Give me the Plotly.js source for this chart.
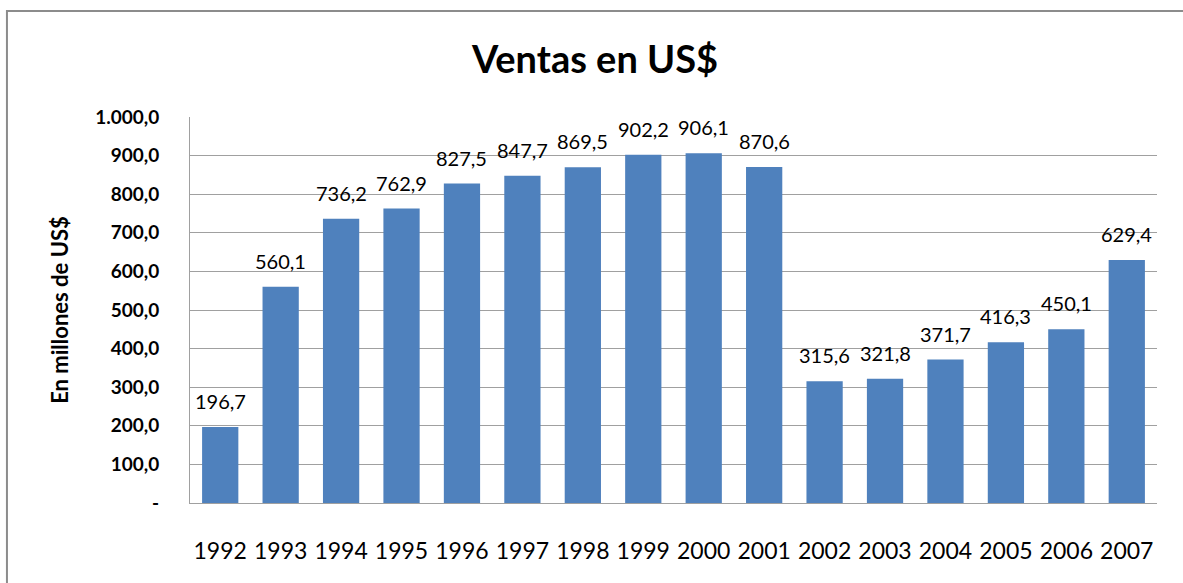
<!DOCTYPE html>
<html>
<head>
<meta charset="utf-8">
<script src="https://cdn.plot.ly/plotly-3.0.1.min.js"></script>
<style>html,body{margin:0;padding:0;background:#fff;}#chart{width:1183px;height:583px;}</style>
</head>
<body>
<div id="chart"></div>
<script>
var years = ['1992','1993','1994','1995','1996','1997','1998','1999','2000','2001','2002','2003','2004','2005','2006','2007'];
var sales = [196.7,560.1,736.2,762.9,827.5,847.7,869.5,902.2,906.1,870.6,315.6,321.8,371.7,416.3,450.1,629.4];
var salesLabels = ['196,7','560,1','736,2','762,9','827,5','847,7','869,5','902,2','906,1','870,6','315,6','321,8','371,7','416,3','450,1','629,4'];
var yTickVals = [0,100,200,300,400,500,600,700,800,900,1000];
var yTickText = ['-','100,0','200,0','300,0','400,0','500,0','600,0','700,0','800,0','900,0','1.000,0'];

var trace = {
  type: 'bar',
  x: years,
  y: sales,
  marker: {color: '#4F81BD'},
  hoverinfo: 'none'
};

var labelAnnotations = years.map(function (yr, i) {
  return {
    x: i, y: sales[i], xref: 'x', yref: 'y',
    text: salesLabels[i], showarrow: false,
    xanchor: 'center', yanchor: 'bottom', yshift: 12,
    font: {family: 'Lato, sans-serif', size: 20, color: '#000'}
  };
});

var layout = {
  width: 1183, height: 583,
  separators: ',.',
  margin: {l: 190, r: 26, t: 117, b: 80},
  paper_bgcolor: '#fff', plot_bgcolor: '#fff',
  showlegend: false,
  bargap: 0.4,
  font: {family: 'Lato, sans-serif', color: '#000'},
  title: {text: '<b>Ventas en US$</b>', x: 0.503, xanchor: 'center', y: 0.897, yanchor: 'middle',
          font: {family: 'Lato, sans-serif', size: 38, color: '#000'}},
  xaxis: {
    type: 'category',
    range: [-0.5, years.length - 0.5],
    showgrid: false,
    showline: true, linecolor: '#a0a0a0', linewidth: 1,
    ticks: '', ticklabelstandoff: 27,
    tickfont: {family: 'Lato, sans-serif', size: 23, color: '#000'}
  },
  yaxis: {
    range: [0, 1000],
    tickvals: yTickVals, ticktext: yTickText,
    showgrid: true, gridcolor: '#a0a0a0', gridwidth: 1,
    showline: true, linecolor: '#a0a0a0', linewidth: 1,
    zeroline: false,
    ticks: '', ticklabelstandoff: 26,
    tickfont: {family: 'Lato, sans-serif', size: 19, color: '#000', weight: 'bold'},
    title: {text: '<b>En millones de US$</b>', standoff: 20,
            font: {family: 'Lato, sans-serif', size: 22, color: '#000'}}
  },
  annotations: labelAnnotations,
  shapes: [{
    type: 'rect', xref: 'paper', yref: 'paper',
    x0: -0.1893, x1: 1.1, y0: -0.3, y1: 1.2746,
    line: {color: '#8c8c8c', width: 2}, fillcolor: 'rgba(0,0,0,0)', layer: 'below'
  }]
};

Plotly.newPlot('chart', [trace], layout, {displayModeBar: false, staticPlot: true});
</script>
</body>
</html>
